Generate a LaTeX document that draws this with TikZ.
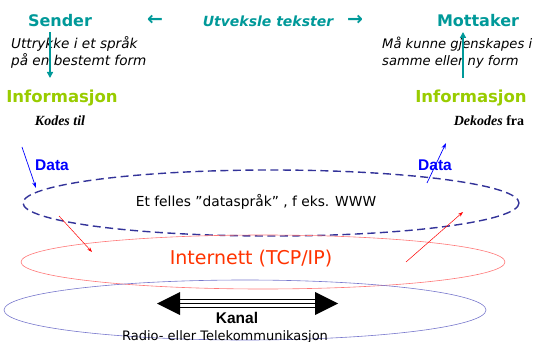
\documentclass[tikz,border=0pt]{standalone}
\usepackage{fontspec}
\setmainfont{Liberation Serif}
\newfontfamily\comic{DejaVu Sans}
\newfontfamily\arial{Liberation Sans}
\usetikzlibrary{arrows.meta}
\definecolor{tealc}{HTML}{009999}
\definecolor{infogreen}{HTML}{99CC00}
\definecolor{navyd}{HTML}{333399}
\definecolor{redline}{HTML}{FF7777}
\definecolor{blueline}{HTML}{7777CC}
\definecolor{netred}{HTML}{FF3300}
\tikzset{
  title/.style={font=\comic\bfseries\fontsize{16}{18}\selectfont, text=tealc, inner sep=0pt, anchor=base},
  info/.style={font=\comic\bfseries\fontsize{16.5}{18}\selectfont, text=infogreen, inner sep=0pt, anchor=base},
  desc/.style={font=\comic\itshape\fontsize{13.6}{17}\selectfont, inner sep=0pt, anchor=base west},
  code/.style={font=\bfseries\fontsize{14}{16}\selectfont, inner sep=0pt, anchor=base},
  datalbl/.style={font=\arial\bfseries\fontsize{15.5}{17}\selectfont, text=blue, inner sep=0pt, anchor=base},
  arrglyph/.style={font=\comic\bfseries\fontsize{19}{20}\selectfont, text=tealc, inner sep=0pt},
  tealarrow/.style={draw=tealc, line width=1.4pt, -{Triangle[length=6pt,width=6pt]}},
  bluearrow/.style={draw=blue, line width=0.7pt, -{Stealth[length=6pt,width=4pt]}},
  redarrow/.style={draw=red, line width=0.5pt, -{Stealth[length=5pt,width=3.5pt]}},
}
\begin{document}
\begin{tikzpicture}[x=1pt,y=-1pt]
\useasboundingbox (0,0) rectangle (538,342);
% top row
\node[title] (sender) at (60,27) {Sender};
\node[arrglyph] (larr) at (155,20) {←};
\node[title, font=\comic\bfseries\itshape\fontsize{14}{16}\selectfont] (utv) at (268,27) {Utveksle tekster};
\node[arrglyph] (rarr) at (355,20) {→};
\node[title] (mott) at (478,27) {Mottaker};
% descriptions
\node[desc] (d1a) at (11,49) {Uttrykke i et språk};
\node[desc] (d1b) at (11,66) {på en bestemt form};
\node[desc, font=\comic\itshape\fontsize{13.1}{17}\selectfont] (d2a) at (382,49) {Må kunne gjenskapes i};
\node[desc, font=\comic\itshape\fontsize{13.1}{17}\selectfont] (d2b) at (382,66) {samme eller ny form};
% teal arrows
\coordinate (ta1) at (50,32);
\coordinate (tb1) at (50,78);
\draw[tealarrow] (ta1) -- (tb1);
\coordinate (ta2) at (463,78);
\coordinate (tb2) at (463,32);
\draw[tealarrow] (ta2) -- (tb2);
% Informasjon
\node[info] (inf1) at (62,103) {Informasjon};
\node[info] (inf2) at (471,103) {Informasjon};
\node[code] (kod) at (60,126) {\itshape Kodes til};
\node[code] (dek) at (489,126) {\textit{Dekodes} fra};
% Data
\node[datalbl] (data1) at (52,170) {Data};
\node[datalbl] (data2) at (435,170) {Data};
\coordinate (b1s) at (22,147);
\coordinate (b1e) at (36,188);
\draw[bluearrow] (b1s) -- (b1e);
\coordinate (b2s) at (427,183);
\coordinate (b2e) at (446,143);
\draw[bluearrow] (b2s) -- (b2e);
% ellipses
\draw[navyd, line width=1.4pt, dash pattern=on 8pt off 4.5pt] (271,203) ellipse [x radius=248, y radius=33];
\node[font=\comic\fontsize{13.8}{16}\selectfont, inner sep=0pt, anchor=base] (felles) at (256,206) {Et felles ”dataspråk” , f eks. WWW};
\draw[redline, line width=0.6pt] (263,262) ellipse [x radius=242, y radius=27];
\node[font=\comic\fontsize{19}{21}\selectfont, text=netred, inner sep=0pt, anchor=base] (inet) at (251,264) {Internett (TCP/IP)};
\draw[blueline, line width=0.6pt] (245,310) ellipse [x radius=241, y radius=30];
% red arrows
\coordinate (r1s) at (59,216);
\coordinate (r1e) at (92,252);
\draw[redarrow] (r1s) -- (r1e);
\coordinate (r2s) at (406,262);
\coordinate (r2e) at (463,212);
\draw[redarrow] (r2s) -- (r2e);
% Kanal double arrow
\coordinate (kl) at (157,303.5);
\coordinate (kr) at (338,303.5);
\coordinate (klb) at (180,303.5);
\coordinate (krb) at (315,303.5);
\draw[black, line width=9pt] (klb) -- (krb);
\draw[white, line width=6.4pt] (klb) -- (krb);
\draw[black, line width=1.4pt] (klb) -- (krb);
\fill[black] (kl) -- ([yshift=-11.5pt]klb) -- ([yshift=11.5pt]klb) -- cycle;
\fill[black] (kr) -- ([yshift=-11.5pt]krb) -- ([yshift=11.5pt]krb) -- cycle;
\node[font=\arial\bfseries\fontsize{15.5}{17}\selectfont, inner sep=0pt, anchor=base] (kanal) at (237,323) {Kanal};
\node[font=\comic\fontsize{13}{15}\selectfont, inner sep=0pt, anchor=base] (radio) at (225,340) {Radio- eller Telekommunikasjon};
\end{tikzpicture}
\end{document}
